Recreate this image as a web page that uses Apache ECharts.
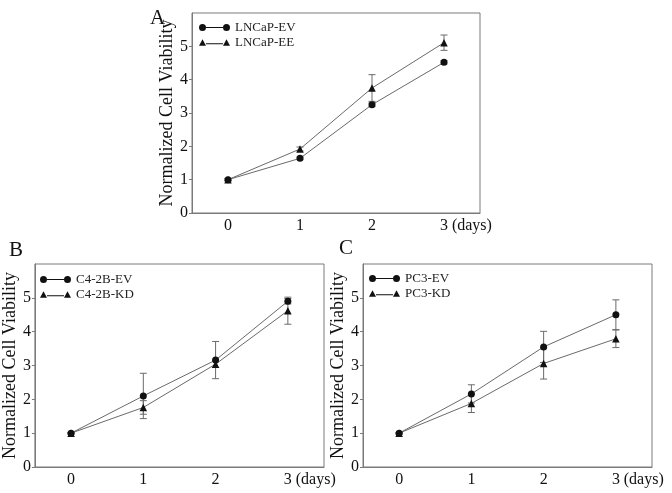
<!DOCTYPE html>
<html><head><meta charset="utf-8">
<script src="https://cdn.jsdelivr.net/npm/echarts@6/dist/echarts.min.js"></script>
<style>html,body{margin:0;padding:0;background:#fff}#c{width:672px;height:493px}</style>
</head><body><div id="c"></div>
<script>
var days = ['0','1','2','3'];
var yTicks = [0,1,2,3,4,5];
// Panel A
var lncapEV = [1.0, 1.64, 3.25, 4.52];
var lncapEVerr = [0.03, 0.04, 0.05, 0.05];
var lncapEE = [1.0, 1.92, 3.75, 5.11];
var lncapEEerr = [0.03, 0.06, 0.40, 0.23];
// Panel B
var c42bEV = [1.0, 2.10, 3.16, 4.90];
var c42bEVerr = [0.02, 0.67, 0.55, 0.08];
var c42bKD = [1.0, 1.76, 3.04, 4.62];
var c42bKDerr = [0.02, 0.20, 0.10, 0.40];
// Panel C
var pc3EV = [1.0, 2.16, 3.55, 4.50];
var pc3EVerr = [0.02, 0.27, 0.46, 0.44];
var pc3KD = [1.0, 1.88, 3.06, 3.79];
var pc3KDerr = [0.02, 0.27, 0.46, 0.26];

var FONT = 'Liberation Serif';
var AX = '#7a7a7a';
var CIRC = 'path://M0,3.5A3.5,3.5,0,1,1,7,3.5A3.5,3.5,0,1,1,0,3.5ZM7,3L24,3L24,4L7,4ZM24,3.5A3.5,3.5,0,1,1,31,3.5A3.5,3.5,0,1,1,24,3.5Z';
var TRI = 'path://M0,7L3.5,0.5L7,7ZM7,4.5L24,4.5L24,5.5L7,5.5ZM24,7L27.5,0.5L31,7Z';

var panels = [
  {grid:{left:192, top:13, width:288, height:200}, names:['LNCaP-EV','LNCaP-EE'], data:[[lncapEV,lncapEVerr],[lncapEE,lncapEEerr]], legend:{left:199, top:21}, title:{text:'A', left:145, top:3}},
  {grid:{left:34, top:264, width:290, height:203}, names:['C4-2B-EV','C4-2B-KD'], data:[[c42bEV,c42bEVerr],[c42bKD,c42bKDerr]], legend:{left:40, top:273}, title:{text:'B', left:4, top:235}},
  {grid:{left:363, top:264, width:289, height:203}, names:['PC3-EV','PC3-KD'], data:[[pc3EV,pc3EVerr],[pc3KD,pc3KDerr]], legend:{left:369, top:272}, title:{text:'C', left:334, top:233}}
];

var option = {animation:false, backgroundColor:'#fff', grid:[], xAxis:[], yAxis:[], series:[], legend:[], title:[]};

function errRender(params, api){
  var x = api.value(0), y = api.value(1), e = api.value(2);
  var hi = api.coord([x, y + e]), lo = api.coord([x, y - e]);
  var w = 3.5;
  var st = {stroke:'#6a6a6a', lineWidth:1};
  return {type:'group', children:[
    {type:'line', shape:{x1:hi[0], y1:hi[1], x2:lo[0], y2:lo[1]}, style:st},
    {type:'line', shape:{x1:hi[0]-w, y1:hi[1], x2:hi[0]+w, y2:hi[1]}, style:st},
    {type:'line', shape:{x1:lo[0]-w, y1:lo[1], x2:lo[0]+w, y2:lo[1]}, style:st}
  ]};
}

panels.forEach(function(p, i){
  option.grid.push(Object.assign({show:true, borderColor:AX, borderWidth:1, backgroundColor:'transparent'}, p.grid));
  option.xAxis.push({
    type:'category', gridIndex:i, data:days, boundaryGap:true,
    axisLine:{lineStyle:{color:AX}},
    axisTick:{alignWithLabel:true, length:3, lineStyle:{color:AX}},
    axisLabel:{fontFamily:FONT, fontSize:16, color:'#111', margin:5},
    name:'(days)', nameLocation:'end', nameGap:-29,
    nameTextStyle:{fontFamily:FONT, fontSize:16, color:'#111', align:'left', verticalAlign:'top', padding:[5,0,0,0]}
  });
  option.yAxis.push({
    type:'value', gridIndex:i, min:0, max:6, interval:1,
    splitLine:{show:false},
    axisLine:{show:true, lineStyle:{color:AX}},
    axisTick:{show:true, length:3, lineStyle:{color:AX}, customValues:yTicks},
    axisLabel:{fontFamily:FONT, fontSize:16, color:'#111', margin:4, customValues:yTicks},
    name:'Normalized Cell Viability', nameLocation:'middle', nameGap:13,
    nameTextStyle:{fontFamily:FONT, fontSize:18, color:'#111'}
  });
  option.title.push({text:p.title.text, left:p.title.left, top:p.title.top, textStyle:{fontFamily:FONT, fontSize:21, fontWeight:'normal', color:'#111'}});
  option.legend.push({
    orient:'vertical', left:p.legend.left, top:p.legend.top, padding:0, itemWidth:31, itemHeight:7, itemGap:2, itemTextGap:6,
    textStyle:{fontFamily:FONT, fontSize:13, color:'#222'},
    data:[{name:p.names[0], icon:CIRC}, {name:p.names[1], icon:TRI}]
  });
  p.data.forEach(function(d, k){
    var sym = k===0 ? 'circle' : 'triangle';
    option.series.push({
      type:'custom', xAxisIndex:i, yAxisIndex:i, renderItem:errRender, z:1,
      data:d[0].map(function(v, j){return [j, v, d[1][j]];}), silent:true, tooltip:{show:false}
    });
    option.series.push({
      type:'line', name:p.names[k], xAxisIndex:i, yAxisIndex:i, data:d[0], z:2,
      symbol:sym, symbolSize:k===0 ? 7 : 7.5, showSymbol:true,
      lineStyle:{color:'#6a6a6a', width:1}, itemStyle:{color:'#111', borderWidth:0}
    });
  });
});

var chart = echarts.init(document.getElementById('c'), null, {renderer:'canvas'});
chart.setOption(option);
</script></body></html>
